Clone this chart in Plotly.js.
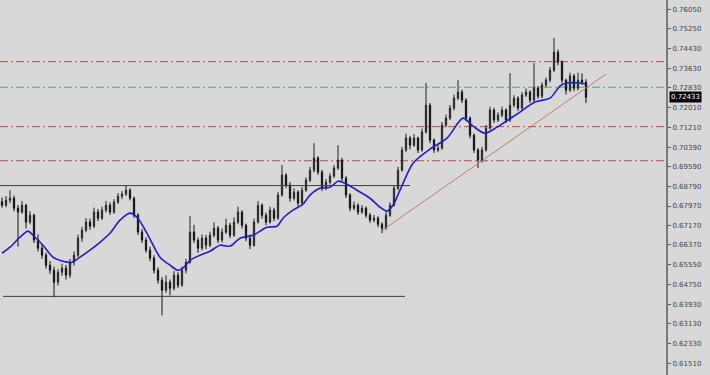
<!DOCTYPE html>
<html><head><meta charset="utf-8">
<script src="https://cdn.plot.ly/plotly-3.0.1.min.js"></script>
<style>html,body{margin:0;padding:0;background:#d8d8d8;}#c{width:710px;height:375px;}</style>
</head><body><div id="c"></div>
<script>
const openP = [0.6815,0.6800,0.6821,0.6829,0.6788,0.6772,0.6800,0.6731,0.6759,0.6657,
0.6624,0.6595,0.6554,0.6533,0.6484,0.6525,0.6542,0.6513,0.6566,0.6595,
0.6665,0.6698,0.6731,0.6714,0.6772,0.6747,0.6780,0.6800,0.6772,0.6813,
0.6837,0.6846,0.6862,0.6829,0.6759,0.6690,0.6657,0.6616,0.6583,0.6533,
0.6492,0.6451,0.6484,0.6459,0.6513,0.6472,0.6533,0.6566,0.6690,0.6657,
0.6624,0.6665,0.6636,0.6677,0.6706,0.6657,0.6690,0.6718,0.6677,0.6731,
0.6772,0.6718,0.6665,0.6636,0.6731,0.6800,0.6759,0.6731,0.6780,0.6747,
0.6842,0.6924,0.6883,0.6829,0.6854,0.6809,0.6862,0.6903,0.6944,0.6994,
0.6936,0.6870,0.6895,0.6920,0.6953,0.6985,0.6911,0.6842,0.6788,0.6800,
0.6772,0.6788,0.6759,0.6739,0.6747,0.6722,0.6706,0.6759,0.6800,0.6870,
0.6944,0.7027,0.7076,0.7047,0.7076,0.7027,0.7101,0.7211,0.7068,0.7027,
0.7035,0.7129,0.7158,0.7199,0.7240,0.7265,0.7232,0.7158,0.7088,0.7027,
0.6985,0.7027,0.7117,0.7191,0.7150,0.7170,0.7191,0.7150,0.7211,0.7240,
0.7199,0.7253,0.7265,0.7232,0.7281,0.7248,0.7294,0.7314,0.7355,0.7429,
0.7388,0.7314,0.7273,0.7331,0.7281,0.7314,0.7306];
const highP = [0.6832,0.6838,0.6862,0.6840,0.6801,0.6818,0.6806,0.6776,0.6765,0.6680,
0.6640,0.6606,0.6571,0.6548,0.6538,0.6560,0.6555,0.6580,0.6610,0.6680,
0.6712,0.6748,0.6745,0.6790,0.6785,0.6795,0.6818,0.6812,0.6825,0.6850,
0.6858,0.6883,0.6870,0.6836,0.6768,0.6702,0.6668,0.6630,0.6595,0.6545,
0.6505,0.6512,0.6495,0.6530,0.6525,0.6548,0.6580,0.6755,0.6720,0.6668,
0.6680,0.6678,0.6692,0.6730,0.6715,0.6705,0.6745,0.6728,0.6750,0.6795,
0.6780,0.6725,0.6680,0.6745,0.6818,0.6808,0.6770,0.6795,0.6790,0.6855,
0.6965,0.6932,0.6895,0.6870,0.6862,0.6875,0.6915,0.6958,0.7055,0.7002,
0.6945,0.6908,0.6932,0.6965,0.7047,0.6995,0.6920,0.6850,0.6815,0.6808,
0.6800,0.6795,0.6768,0.6760,0.6755,0.6730,0.6772,0.6812,0.6882,0.6958,
0.7040,0.7095,0.7085,0.7092,0.7082,0.7115,0.7302,0.7220,0.7075,0.7050,
0.7142,0.7172,0.7212,0.7255,0.7314,0.7275,0.7240,0.7165,0.7095,0.7035,
0.7040,0.7130,0.7205,0.7200,0.7182,0.7205,0.7198,0.7343,0.7252,0.7248,
0.7265,0.7280,0.7272,0.7384,0.7290,0.7305,0.7325,0.7368,0.7487,0.7440,
0.7395,0.7320,0.7345,0.7340,0.7345,0.7342,0.7318];
const lowP = [0.6790,0.6792,0.6808,0.6775,0.6630,0.6765,0.6705,0.6722,0.6645,0.6610,
0.6580,0.6540,0.6518,0.6422,0.6470,0.6510,0.6495,0.6502,0.6552,0.6588,
0.6650,0.6690,0.6700,0.6706,0.6735,0.6740,0.6770,0.6760,0.6765,0.6805,
0.6825,0.6838,0.6820,0.6748,0.6678,0.6645,0.6605,0.6570,0.6520,0.6478,
0.6348,0.6440,0.6430,0.6450,0.6460,0.6465,0.6520,0.6560,0.6645,0.6605,
0.6615,0.6620,0.6628,0.6668,0.6645,0.6648,0.6682,0.6665,0.6670,0.6722,
0.6705,0.6652,0.6620,0.6630,0.6725,0.6745,0.6718,0.6725,0.6735,0.6740,
0.6835,0.6870,0.6815,0.6820,0.6795,0.6800,0.6855,0.6895,0.6935,0.6925,
0.6858,0.6862,0.6885,0.6912,0.6945,0.6900,0.6830,0.6775,0.6780,0.6760,
0.6765,0.6748,0.6728,0.6730,0.6710,0.6685,0.6700,0.6752,0.6795,0.6862,
0.6938,0.7018,0.7030,0.7040,0.7015,0.7020,0.7095,0.7055,0.7015,0.7018,
0.7028,0.7120,0.7150,0.7190,0.7232,0.7220,0.7145,0.7075,0.7015,0.6953,
0.6975,0.7020,0.7110,0.7138,0.7142,0.7162,0.7138,0.7142,0.7202,0.7188,
0.7190,0.7245,0.7220,0.7225,0.7238,0.7240,0.7285,0.7305,0.7348,0.7375,
0.7300,0.7255,0.7265,0.7268,0.7272,0.7295,0.7220];
const closeP = [0.6800,0.6821,0.6829,0.6788,0.6772,0.6800,0.6731,0.6759,0.6657,0.6624,
0.6595,0.6554,0.6533,0.6484,0.6525,0.6542,0.6513,0.6566,0.6595,0.6665,
0.6698,0.6731,0.6714,0.6772,0.6747,0.6780,0.6800,0.6772,0.6813,0.6837,
0.6846,0.6862,0.6829,0.6759,0.6690,0.6657,0.6616,0.6583,0.6533,0.6492,
0.6451,0.6484,0.6459,0.6513,0.6472,0.6533,0.6566,0.6690,0.6657,0.6624,
0.6665,0.6636,0.6677,0.6706,0.6657,0.6690,0.6718,0.6677,0.6731,0.6772,
0.6718,0.6665,0.6636,0.6731,0.6800,0.6759,0.6731,0.6780,0.6747,0.6842,
0.6924,0.6883,0.6829,0.6854,0.6809,0.6862,0.6903,0.6944,0.6994,0.6936,
0.6870,0.6895,0.6920,0.6953,0.6985,0.6911,0.6842,0.6788,0.6800,0.6772,
0.6788,0.6759,0.6739,0.6747,0.6722,0.6706,0.6759,0.6800,0.6870,0.6944,
0.7027,0.7076,0.7047,0.7076,0.7027,0.7101,0.7211,0.7068,0.7027,0.7035,
0.7129,0.7158,0.7199,0.7240,0.7265,0.7232,0.7158,0.7088,0.7027,0.6985,
0.7027,0.7117,0.7191,0.7150,0.7170,0.7191,0.7150,0.7211,0.7240,0.7199,
0.7253,0.7265,0.7232,0.7281,0.7248,0.7294,0.7314,0.7355,0.7429,0.7388,
0.7314,0.7273,0.7331,0.7281,0.7314,0.7306,0.72433];

const maIdx = [0,2,4.5,6.5,7.75,10.25,12.75,15.25,17.5,19.5,22,24.5,27,29.5,32,33.75,36.25,39.5,42,44,45.25,47,49.5,52,54.5,57,59.5,62.75,66.25,68.75,70.25,72.75,75.25,77,79.5,82,84,85.75,88.75,92,94.5,96.25,97.75,99.5,102.75,107,111.25,115.25,117.75,120.75,123.75,125.75,129.5,133.25,137,139.5,141.25,144.5,145.75];
const maVal = [0.6603,0.6628,0.6669,0.6694,0.6677,0.6636,0.6587,0.6570,0.6566,0.6587,0.6616,0.6648,0.6685,0.6739,0.6768,0.6751,0.6685,0.6587,0.6554,0.6533,0.6542,0.6574,0.6595,0.6611,0.6636,0.6632,0.6665,0.6677,0.6710,0.6714,0.6747,0.6780,0.6805,0.6842,0.6870,0.6874,0.6899,0.6891,0.6862,0.6829,0.6792,0.6776,0.6800,0.6862,0.6973,0.7031,0.7076,0.7158,0.7125,0.7096,0.7121,0.7142,0.7183,0.7224,0.7240,0.7290,0.7302,0.7302,0.7298];

const redLevels = [0.7390, 0.7123, 0.6983];
const greenLevels = [0.7285];
const upperLineX = [-0.5, 102], upperLineY = [0.6881, 0.6881];
const lowerLineX = [0.25, 100.75], lowerLineY = [0.6426, 0.6426];
const trendX = [95.25, 151], trendY = [0.6699, 0.7339];
const lastPrice = 0.72433;
const tickVals = [0.76050,0.75250,0.74430,0.73630,0.72830,0.72010,0.71210,0.70390,0.69590,0.68790,0.67970,0.67170,0.66370,0.65550,0.64750,0.63930,0.63130,0.62330,0.61510];

const idx = closeP.map((_, i) => i);

const traces = [
  {type:'scatter', mode:'lines', x:upperLineX, y:upperLineY, line:{color:'#3c3c3c', width:1}, hoverinfo:'skip'},
  {type:'scatter', mode:'lines', x:lowerLineX, y:lowerLineY, line:{color:'#3c3c3c', width:1}, hoverinfo:'skip'},
  {type:'scatter', mode:'lines', x:trendX, y:trendY, line:{color:'#c07a72', width:1}, hoverinfo:'skip'},
  {type:'candlestick', x:idx, open:openP, high:highP, low:lowP, close:closeP,
   increasing:{line:{color:'#222222', width:1}, fillcolor:'#707070'},
   decreasing:{line:{color:'#111111', width:1}, fillcolor:'#111111'},
   whiskerwidth:0, hoverinfo:'skip'},
  {type:'scatter', mode:'lines', x:maIdx, y:maVal, line:{color:'#2020c8', width:1.6, shape:'spline', smoothing:0.8}, hoverinfo:'skip'}
];

const shapes = [];
redLevels.forEach(v => shapes.push({type:'line', xref:'paper', x0:0, x1:1, yref:'y', y0:v, y1:v, line:{color:'#cc4444', width:1, dash:'8px,3px,2px,3px'}, layer:'below'}));
greenLevels.forEach(v => shapes.push({type:'line', xref:'paper', x0:0, x1:1, yref:'y', y0:v, y1:v, line:{color:'#55aa55', width:1, dash:'8px,3px,2px,3px'}, layer:'below'}));

const layout = {
  width:710, height:375,
  margin:{l:0, r:44, t:0, b:0, pad:0},
  paper_bgcolor:'#d8d8d8', plot_bgcolor:'#d8d8d8',
  showlegend:false, hovermode:false, boxgap:0.55,
  xaxis:{range:[-0.5,166], showgrid:false, zeroline:false, showticklabels:false, ticks:'', showline:false, rangeslider:{visible:false}, fixedrange:true},
  yaxis:{side:'right', range:[0.6103,0.76432], showgrid:false, zeroline:false,
    tickvals:tickVals, ticktext:tickVals.map(v => v.toFixed(5)),
    ticks:'outside', ticklen:3, tickcolor:'#555555', tickwidth:1,
    showline:true, linecolor:'#7a7a7a', linewidth:2,
    tickfont:{family:'DejaVu Sans', size:7, color:'#444444'}, fixedrange:true},
  shapes:shapes,
  annotations:[{xref:'paper', x:1.004, xanchor:'left', yref:'y', y:lastPrice, yanchor:'middle',
    text:lastPrice.toFixed(5), showarrow:false, bgcolor:'#000000', borderpad:1,
    font:{family:'DejaVu Sans', size:7, color:'#ffffff'}}]
};

Plotly.newPlot('c', traces, layout, {staticPlot:true, displayModeBar:false});
</script></body></html>
